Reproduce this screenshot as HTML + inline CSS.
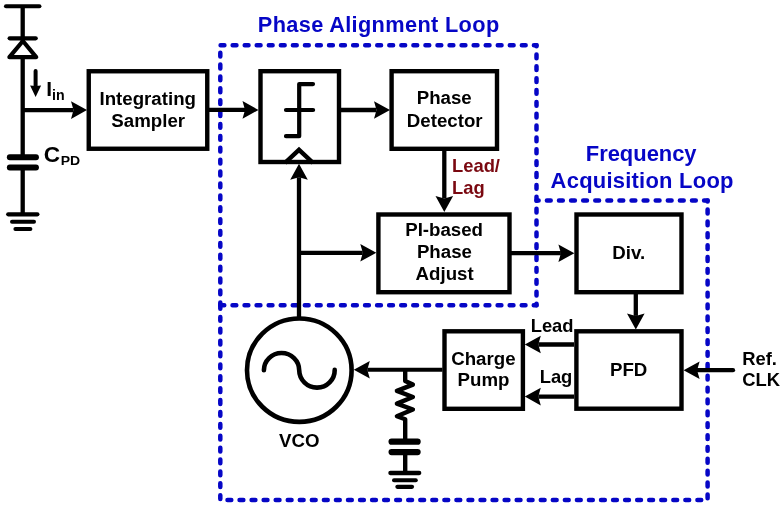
<!DOCTYPE html>
<html><head><meta charset="utf-8"><title>CDR block diagram</title>
<style>
html,body{margin:0;padding:0;background:#fff;}
svg{display:block;will-change:transform;font-family:"Liberation Sans",sans-serif;font-weight:bold;}
</style></head><body>
<svg width="783" height="506" viewBox="0 0 783 506">
<rect width="783" height="506" fill="#fff"/>
<line x1="220.3" y1="45.2" x2="536.5" y2="45.2" stroke="#0606c6" stroke-width="4.5" stroke-linecap="round" stroke-dasharray="3.8 8.250" stroke-dashoffset="11.750"/>
<line x1="536.5" y1="45.2" x2="536.5" y2="305.2" stroke="#0606c6" stroke-width="4.5" stroke-linecap="round" stroke-dasharray="3.8 8.070" stroke-dashoffset="2.670"/>
<line x1="220.3" y1="45.2" x2="220.3" y2="305.2" stroke="#0606c6" stroke-width="4.5" stroke-linecap="round" stroke-dasharray="3.8 8.090" stroke-dashoffset="4.390"/>
<line x1="220.3" y1="305.2" x2="536.5" y2="305.2" stroke="#0606c6" stroke-width="4.5" stroke-linecap="round" stroke-dasharray="3.8 8.250" stroke-dashoffset="11.900"/>
<line x1="536.5" y1="200.6" x2="707.6" y2="200.6" stroke="#0606c6" stroke-width="4.5" stroke-linecap="round" stroke-dasharray="3.8 8.290" stroke-dashoffset="1.690"/>
<line x1="707.6" y1="200.6" x2="707.6" y2="500.1" stroke="#0606c6" stroke-width="4.5" stroke-linecap="round" stroke-dasharray="3.8 8.070" stroke-dashoffset="2.870"/>
<line x1="220.3" y1="500.1" x2="707.6" y2="500.1" stroke="#0606c6" stroke-width="4.5" stroke-linecap="round" stroke-dasharray="3.8 8.249" stroke-dashoffset="4.849"/>
<line x1="220.3" y1="305.2" x2="220.3" y2="500.1" stroke="#0606c6" stroke-width="4.5" stroke-linecap="round" stroke-dasharray="3.8 8.087" stroke-dashoffset="0.187"/>
<line x1="22.7" y1="6" x2="22.7" y2="215" stroke="#000" stroke-width="4.3" stroke-linecap="butt"/>
<line x1="6" y1="6.2" x2="39.4" y2="6.2" stroke="#000" stroke-width="4.1" stroke-linecap="round"/>
<line x1="9.7" y1="38.3" x2="35.7" y2="38.3" stroke="#000" stroke-width="4.3" stroke-linecap="round"/>
<polygon points="22.9,41 36.2,57.2 9.4,57.2" fill="#fff" stroke="#000" stroke-width="4.2" stroke-linejoin="round"/>
<line x1="35.6" y1="71" x2="35.60" y2="86.00" stroke="#000" stroke-width="4" stroke-linecap="round"/>
<polygon points="35.60,97.00 30.10,85.50 35.60,86.00 41.10,85.50" fill="#000"/>
<rect x="0" y="157.5" width="45" height="10" fill="#fff"/>
<line x1="9.8" y1="157.2" x2="36" y2="157.2" stroke="#000" stroke-width="5.9" stroke-linecap="round"/>
<line x1="9.8" y1="167.5" x2="36" y2="167.5" stroke="#000" stroke-width="5.9" stroke-linecap="round"/>
<line x1="8.2" y1="214.3" x2="37.4" y2="214.3" stroke="#000" stroke-width="4.2" stroke-linecap="round"/>
<line x1="12" y1="221.7" x2="34" y2="221.7" stroke="#000" stroke-width="4" stroke-linecap="round"/>
<line x1="15.4" y1="229" x2="30.4" y2="229" stroke="#000" stroke-width="4" stroke-linecap="round"/>
<line x1="22.7" y1="110.1" x2="73.50" y2="110.10" stroke="#000" stroke-width="4.3" stroke-linecap="butt"/>
<polygon points="87.00,110.10 71.00,118.90 73.50,110.10 71.00,101.30" fill="#000"/>
<rect x="88.75" y="71.25" width="118.5" height="77.5" fill="#fff" stroke="#000" stroke-width="4.4"/>
<line x1="209" y1="109.9" x2="245.00" y2="109.90" stroke="#000" stroke-width="4.3" stroke-linecap="butt"/>
<polygon points="258.50,109.90 242.50,118.70 245.00,109.90 242.50,101.10" fill="#000"/>
<rect x="260.5" y="71.2" width="78.5" height="90.8" fill="#fff" stroke="#000" stroke-width="4.4"/>
<line x1="341" y1="110" x2="376.50" y2="110.00" stroke="#000" stroke-width="4.3" stroke-linecap="butt"/>
<polygon points="390.00,110.00 374.00,118.80 376.50,110.00 374.00,101.20" fill="#000"/>
<rect x="391.6" y="71.2" width="105.39999999999998" height="77.60000000000001" fill="#fff" stroke="#000" stroke-width="4.4"/>
<line x1="444.3" y1="150" x2="444.30" y2="198.50" stroke="#000" stroke-width="4.3" stroke-linecap="butt"/>
<polygon points="444.30,212.00 435.50,196.00 444.30,198.50 453.10,196.00" fill="#000"/>
<rect x="378.4" y="214.5" width="131.10000000000002" height="77.69999999999999" fill="#fff" stroke="#000" stroke-width="4.4"/>
<line x1="511" y1="253.2" x2="560.90" y2="253.20" stroke="#000" stroke-width="4.3" stroke-linecap="butt"/>
<polygon points="574.40,253.20 558.40,262.00 560.90,253.20 558.40,244.40" fill="#000"/>
<rect x="576.5" y="214.5" width="105.0" height="77.69999999999999" fill="#fff" stroke="#000" stroke-width="4.4"/>
<line x1="635.8" y1="293" x2="635.80" y2="315.90" stroke="#000" stroke-width="4.3" stroke-linecap="butt"/>
<polygon points="635.80,329.40 627.00,313.40 635.80,315.90 644.60,313.40" fill="#000"/>
<rect x="576.4" y="331.3" width="105.10000000000002" height="77.39999999999998" fill="#fff" stroke="#000" stroke-width="4.4"/>
<line x1="733" y1="370.2" x2="697.10" y2="370.20" stroke="#000" stroke-width="4.3" stroke-linecap="round"/>
<polygon points="683.60,370.20 699.60,361.40 697.10,370.20 699.60,379.00" fill="#000"/>
<rect x="444.5" y="331.3" width="78.39999999999998" height="77.5" fill="#fff" stroke="#000" stroke-width="4.4"/>
<line x1="574" y1="344.5" x2="538.30" y2="344.50" stroke="#000" stroke-width="4.3" stroke-linecap="butt"/>
<polygon points="524.80,344.50 540.80,335.70 538.30,344.50 540.80,353.30" fill="#000"/>
<line x1="574" y1="396.6" x2="538.30" y2="396.60" stroke="#000" stroke-width="4.3" stroke-linecap="butt"/>
<polygon points="524.80,396.60 540.80,387.80 538.30,396.60 540.80,405.40" fill="#000"/>
<line x1="442.5" y1="369.7" x2="367.30" y2="369.70" stroke="#000" stroke-width="3.9" stroke-linecap="butt"/>
<polygon points="353.80,369.70 369.80,360.90 367.30,369.70 369.80,378.50" fill="#000"/>
<ellipse cx="299.3" cy="370.2" rx="52.3" ry="51.7" fill="#fff" stroke="#000" stroke-width="4.6"/>
<path d="M263.9,370.3 A17.65,17.3 0 0 1 299.2,370.3 A17.75,17.5 0 0 0 334.7,369.9" fill="none" stroke="#000" stroke-width="4.6" stroke-linecap="round"/>
<line x1="299.0" y1="319" x2="299.00" y2="177.20" stroke="#000" stroke-width="4.3" stroke-linecap="butt"/>
<polygon points="299.00,163.70 307.80,179.70 299.00,177.20 290.20,179.70" fill="#000"/>
<line x1="299.0" y1="252.8" x2="362.80" y2="252.80" stroke="#000" stroke-width="4.3" stroke-linecap="butt"/>
<polygon points="376.30,252.80 360.30,261.60 362.80,252.80 360.30,244.00" fill="#000"/>
<path d="M313.0,84.1 L299.2,84.1 L299.2,136.2 L286.0,136.2 M286.0,110 L313.1,110" fill="none" stroke="#000" stroke-width="4.2" stroke-linecap="round" stroke-linejoin="round"/>
<path d="M285.0,162.8 L299.0,149.8 L313.0,162.8" fill="none" stroke="#000" stroke-width="4.3" stroke-linejoin="miter"/>
<path d="M405.2,369.6 L405.2,381 L412.9,384.6 L396.9,390.9 L412.9,397 L396.9,403.6 L412.9,409.5 L396.9,416.2 L405.2,419.2 L405.2,472" fill="none" stroke="#000" stroke-width="4.4" stroke-linejoin="round"/>
<rect x="385" y="441.6" width="40" height="10.5" fill="#fff"/>
<line x1="391.6" y1="441.7" x2="417.6" y2="441.7" stroke="#000" stroke-width="6.2" stroke-linecap="round"/>
<line x1="391.6" y1="452.1" x2="417.6" y2="452.1" stroke="#000" stroke-width="6.2" stroke-linecap="round"/>
<line x1="390.4" y1="473" x2="419.2" y2="473" stroke="#000" stroke-width="4.3" stroke-linecap="round"/>
<line x1="394" y1="480.2" x2="415.8" y2="480.2" stroke="#000" stroke-width="4" stroke-linecap="round"/>
<line x1="397.4" y1="486.8" x2="412" y2="486.8" stroke="#000" stroke-width="4.2" stroke-linecap="round"/>
<text transform="translate(257.8,31.6) scale(1.021,1)" font-size="21.3" fill="#0606c6" text-anchor="start" textLength="236.43" lengthAdjust="spacing">Phase Alignment Loop</text>
<text transform="translate(585.8,161.1) scale(1.021,1)" font-size="21.5" fill="#0606c6" text-anchor="start" textLength="108.52" lengthAdjust="spacing">Frequency</text>
<text transform="translate(550.6,187.8) scale(1.021,1)" font-size="21.5" fill="#0606c6" text-anchor="start" textLength="179.14" lengthAdjust="spacing">Acquisition Loop</text>
<text transform="translate(147.7,104.5) scale(1.021,1)" font-size="18.3" fill="#000" text-anchor="middle">Integrating</text>
<text transform="translate(148.2,126.7) scale(1.021,1)" font-size="18.3" fill="#000" text-anchor="middle">Sampler</text>
<text transform="translate(444.2,104) scale(1.021,1)" font-size="18.3" fill="#000" text-anchor="middle">Phase</text>
<text transform="translate(444.7,126.6) scale(1.021,1)" font-size="18.3" fill="#000" text-anchor="middle">Detector</text>
<text transform="translate(452.0,172) scale(1.021,1)" font-size="18" fill="#7a0810" text-anchor="start">Lead/</text>
<text transform="translate(452.0,194) scale(1.021,1)" font-size="18" fill="#7a0810" text-anchor="start">Lag</text>
<text transform="translate(444.1,235.8) scale(1.021,1)" font-size="18.3" fill="#000" text-anchor="middle">PI-based</text>
<text transform="translate(444.4,258.1) scale(1.021,1)" font-size="18.3" fill="#000" text-anchor="middle">Phase</text>
<text transform="translate(444.6,280.4) scale(1.021,1)" font-size="18.3" fill="#000" text-anchor="middle">Adjust</text>
<text transform="translate(628.7,258.7) scale(1.021,1)" font-size="18.3" fill="#000" text-anchor="middle">Div.</text>
<text transform="translate(628.6,376.2) scale(1.021,1)" font-size="18.3" fill="#000" text-anchor="middle">PFD</text>
<text transform="translate(483.4,364.8) scale(1.021,1)" font-size="18.3" fill="#000" text-anchor="middle">Charge</text>
<text transform="translate(483.5,386.4) scale(1.021,1)" font-size="18.3" fill="#000" text-anchor="middle">Pump</text>
<text transform="translate(552.1,331.7) scale(1.021,1)" font-size="18" fill="#000" text-anchor="middle">Lead</text>
<text transform="translate(556,382.7) scale(1.021,1)" font-size="18" fill="#000" text-anchor="middle">Lag</text>
<text transform="translate(742.2,365.1) scale(1.021,1)" font-size="18" fill="#000" text-anchor="start">Ref.</text>
<text transform="translate(742.2,386) scale(1.021,1)" font-size="18" fill="#000" text-anchor="start">CLK</text>
<text transform="translate(299.3,446.9) scale(1.021,1)" font-size="18.3" fill="#000" text-anchor="middle">VCO</text>
<text transform="translate(46.3,96) scale(1.03,1)" font-size="20.3">I<tspan font-size="13.8" dy="4.4">in</tspan></text>
<text transform="translate(43.8,161.8) scale(1.03,1)" font-size="22">C<tspan font-size="13.6" dx="0.5" dy="3.3">PD</tspan></text>
</svg>
</body></html>
